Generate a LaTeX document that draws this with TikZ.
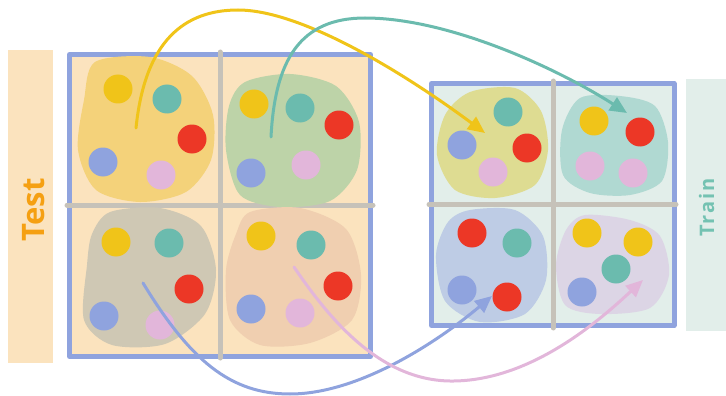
\documentclass[tikz,border=0pt]{standalone}
\usepackage{fontspec}
\setsansfont{Open Sans}
\usetikzlibrary{arrows.meta}
\definecolor{cPeach}{HTML}{FBE3BE}
\definecolor{cMint}{HTML}{E2EEEA}
\definecolor{cFrame}{HTML}{8FA3DE}
\definecolor{cGray}{HTML}{C6C2B9}
\definecolor{cYel}{HTML}{F0C419}
\definecolor{cTeal}{HTML}{6BBBAE}
\definecolor{cRed}{HTML}{EC3726}
\definecolor{cBlue}{HTML}{8FA3DE}
\definecolor{cPink}{HTML}{E2B6DA}
\definecolor{cOrange}{HTML}{F5A012}
\definecolor{cTrain}{HTML}{74C2B2}
\definecolor{gYel}{HTML}{F4D27A}
\definecolor{gGreen}{HTML}{BDD3A8}
\definecolor{gStone}{HTML}{CFC8B4}
\definecolor{gSalmon}{HTML}{F0CFB0}
\definecolor{gOlive}{HTML}{DEDC92}
\definecolor{gTeal}{HTML}{B0D9D2}
\definecolor{gBlue}{HTML}{BECCE5}
\definecolor{gLilac}{HTML}{DCD5E5}
\tikzstyle{every path}=[line cap=round,line join=round]
\tikzstyle{frame}=[draw=cFrame,line width=5pt]
\tikzstyle{divider}=[draw=cGray,line width=5pt]
\tikzstyle{moveline}=[line width=3pt,-{Triangle[length=17pt,width=15pt]}]
\newcommand{\ball}[3]{\fill[#3] (#1,#2) circle (14.5pt);}
\newcommand{\blob}[2]{\fill[#1] plot[smooth cycle] coordinates {#2};}

\begin{document}
\begin{tikzpicture}[x=1pt,y=-1pt]
		\useasboundingbox (0,0) rectangle (726,396);
		
		% side bands
		\fill[cPeach] (8,50) rectangle (53,363);
		\fill[cMint] (686,79) rectangle (726,331);
		\node[rotate=90,text=cOrange,font=\sffamily\bfseries\fontsize{31}{31}\selectfont] (testlabel) at (34,210) {Test};
		\node[rotate=90,text=cTrain,font=\sffamily\bfseries\fontsize{20}{20}\selectfont\addfontfeatures{LetterSpace=10}] (trainlabel) at (706.5,207.5) {Train};
		
		% test grid
		\fill[cPeach] (69.5,54.5) rectangle (370.5,356.5);
		\draw[frame] (69.5,54.5) rectangle (370.5,356.5);
		\draw[divider] (220,52) -- (220,358);
		\draw[divider] (67,205) -- (373,205);
		
		% train grid
		\fill[cMint] (431.5,83.5) rectangle (674,325.5);
		\draw[frame] (431.5,83.5) rectangle (674,325.5);
		\draw[divider] (553,81) -- (553,328);
		\draw[divider] (429,204.5) -- (676,204.5);
		
		% test groups
		\blob{gYel}{(95,62) (150,57) (192,76) (213,115) (211,160) (186,192) (140,202) (96,190) (78,150) (84,100)}
		\blob{gGreen}{(245,82) (290,74) (336,86) (359,122) (357,170) (330,201) (280,207) (240,195) (226,150) (229,106)}
		\blob{gStone}{(110,212) (160,208) (201,226) (216,270) (205,314) (165,344) (112,345) (84,320) (87,265) (92,234)}
		\blob{gSalmon}{(250,212) (300,208) (346,229) (361,275) (352,320) (310,343) (260,345) (230,320) (226,270) (236,234)}
		
		% train groups
		\blob{gOlive}{(470,92) (515,88) (541,111) (548,150) (535,185) (495,198) (455,190) (437,155) (445,115)}
		\blob{gTeal}{(580,98) (620,96) (655,106) (668,142) (662,181) (630,195) (590,193) (563,175) (562,130)}
		\blob{gBlue}{(470,210) (515,210) (543,236) (546,280) (525,314) (480,322) (445,301) (436,255) (448,222)}
		\blob{gLilac}{(585,215) (630,220) (660,236) (669,275) (650,308) (600,314) (565,305) (556,265) (566,230)}
		
		\ball{118}{89}{cYel} \ball{167}{99}{cTeal} \ball{192}{139}{cRed} \ball{103}{162}{cBlue} \ball{161}{175}{cPink}
		\ball{254}{104}{cYel} \ball{300}{108}{cTeal} \ball{339}{125}{cRed} \ball{251}{173}{cBlue} \ball{306}{165}{cPink}
		\ball{116}{242}{cYel} \ball{169}{243}{cTeal} \ball{189}{289}{cRed} \ball{104}{316}{cBlue} \ball{160}{325}{cPink}
		\ball{261}{236}{cYel} \ball{311}{245}{cTeal} \ball{338}{286}{cRed} \ball{251}{309}{cBlue} \ball{300}{313}{cPink}
		
		\ball{508}{112}{cTeal} \ball{462}{145}{cBlue} \ball{527}{148}{cRed} \ball{493}{172}{cPink}
		\ball{594}{121}{cYel} \ball{640}{132}{cRed} \ball{590}{166}{cPink} \ball{633}{173}{cPink}
		\ball{472}{233}{cRed} \ball{517}{243}{cTeal} \ball{462}{290}{cBlue} \ball{507}{297}{cRed}
		\ball{587}{233}{cYel} \ball{638}{242}{cYel} \ball{616}{269}{cTeal} \ball{582}{292}{cBlue}
		
		% swaps
		\coordinate (ysrc) at (136,128);
		\coordinate (ydst) at (485,133);
		\coordinate (tsrc) at (271,137);
		\coordinate (tdst) at (627,113);
		\coordinate (bsrc) at (143,283);
		\coordinate (bdst) at (492,296);
		\coordinate (psrc) at (294,267);
		\coordinate (pdst) at (643,280);
		
		\draw[moveline,cYel] (ysrc) .. controls (145,40) and (185,10) .. (238,10) .. controls (300,10) and (400,70) .. (ydst);
		\draw[moveline,cTeal] (tsrc) .. controls (275,60) and (300,18) .. (365,18) .. controls (450,18) and (560,70) .. (tdst);
		\draw[moveline,cBlue] (bsrc) .. controls (190,360) and (230,394) .. (290,394) .. controls (360,394) and (440,340) .. (bdst);
		\draw[moveline,cPink] (psrc) .. controls (330,320) and (380,380) .. (450,381) .. controls (530,382) and (600,320) .. (pdst);
		
	\end{tikzpicture}
\end{document}
